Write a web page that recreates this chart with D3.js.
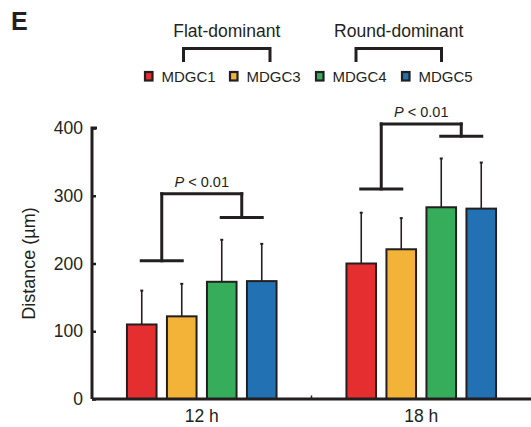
<!DOCTYPE html>
<html>
<head>
<meta charset="utf-8">
<script src="https://cdn.jsdelivr.net/npm/d3@7"></script>
<style>
    body { margin: 0; background: #fff; }
    text { font-family: "Liberation Sans", Arial, Helvetica, sans-serif; fill: #231f20; }
</style>
</head>
<body>
<div id="graphContainer"></div>
<script>
//chart data
var timepoints = ["12 h", "18 h"],
    series = ["MDGC1", "MDGC3", "MDGC4", "MDGC5"],
    colors = ["#e52e2f", "#f3b338", "#36ad5b", "#2272b3"],
    means = [[110, 122, 173, 174], [200, 221, 283, 281]],
    errTops = [[160, 170, 235, 229], [275, 267, 355, 349]],
    yTicks = [0, 100, 200, 300, 400];

//significance brackets per timepoint: left arm, top, right arm
var sigLow = [204, 310],
    sigTop = [303, 406],
    sigHigh = [268, 388],
    sigText = "< 0.01";

//legend grouping
var groupNames = ["Flat-dominant", "Round-dominant"];

var width = 531,
    height = 427,
    margin = {top: 128, left: 92, bottom: 28, right: 0},
    ink = "#231f20";

var svg = d3.select("#graphContainer").append("svg")
    .attr("width", width)
    .attr("height", height);

var x = d3.scaleBand().domain(timepoints).range([margin.left, width - margin.right]),
    inner = d3.scaleBand().domain(series).range([-80, 80]).paddingInner(0.21).paddingOuter(0.105),
    y = d3.scaleLinear().domain([0, 400]).range([height - margin.bottom, margin.top]);

//panel letter
svg.append("text")
    .attr("x", 11)
    .attr("y", 30)
    .style("font-size", "25px")
    .style("font-weight", "bold")
    .text("E");

//bars
var groups = svg.append("g").selectAll("g")
    .data(timepoints)
    .enter().append("g")
    .attr("transform", function (d) {
        return "translate(" + (x(d) + x.bandwidth() / 2) + ",0)";
    });

groups.each(function (t, i) {
    var g = d3.select(this);
    var rows = series.map(function (s, j) {
        return {s: s, mean: means[i][j], top: errTops[i][j], color: colors[j]};
    });

    //error bars first so the bar covers the lower half
    g.selectAll(".err").data(rows).enter().append("line")
        .attr("class", "err")
        .attr("x1", function (d) { return inner(d.s) + inner.bandwidth() / 2; })
        .attr("x2", function (d) { return inner(d.s) + inner.bandwidth() / 2; })
        .attr("y1", function (d) { return y(d.mean); })
        .attr("y2", function (d) { return y(d.top); })
        .attr("stroke", ink)
        .attr("stroke-width", 1.6);

    g.selectAll(".cap").data(rows).enter().append("line")
        .attr("class", "cap")
        .attr("x1", function (d) { return inner(d.s) + inner.bandwidth() / 2 - 1.5; })
        .attr("x2", function (d) { return inner(d.s) + inner.bandwidth() / 2 + 1.5; })
        .attr("y1", function (d) { return y(d.top); })
        .attr("y2", function (d) { return y(d.top); })
        .attr("stroke", ink)
        .attr("stroke-width", 2);

    g.selectAll(".bar").data(rows).enter().append("rect")
        .attr("class", "bar")
        .attr("x", function (d) { return inner(d.s) + 1; })
        .attr("width", inner.bandwidth() - 2)
        .attr("y", function (d) { return y(d.mean); })
        .attr("height", function (d) { return y(0) - y(d.mean); })
        .attr("fill", function (d) { return d.color; })
        .attr("stroke", ink)
        .attr("stroke-width", 2);

    //significance bracket
    var cL = (inner(series[0]) + inner(series[1]) + inner.bandwidth()) / 2,
        cR = (inner(series[2]) + inner(series[3]) + inner.bandwidth()) / 2,
        armL = (inner(series[1]) - inner(series[0])) / 2 + 0.5,
        armR = (inner(series[3]) - inner(series[2])) / 2 + 0.5;

    var lines = [
        [cL - armL, sigLow[i], cL + armL, sigLow[i]],
        [cL, sigLow[i], cL, sigTop[i]],
        [cL, sigTop[i], cR, sigTop[i]],
        [cR, sigTop[i], cR, sigHigh[i]],
        [cR - armR, sigHigh[i], cR + armR, sigHigh[i]]
    ];
    g.selectAll(".sig").data(lines).enter().append("line")
        .attr("class", "sig")
        .attr("x1", function (d) { return d[0]; })
        .attr("y1", function (d) { return y(d[1]); })
        .attr("x2", function (d) { return d[2]; })
        .attr("y2", function (d) { return y(d[3]); })
        .attr("stroke", ink)
        .attr("stroke-width", 3)
        .attr("stroke-linecap", "square");

    var label = g.append("text")
        .attr("x", (cL + cR) / 2)
        .attr("y", y(sigTop[i]) - 7)
        .attr("text-anchor", "middle")
        .style("font-size", "14.5px");
    label.append("tspan").style("font-style", "italic").text("P");
    label.append("tspan").text(" " + sigText);
});

//y axis, ticks point inward
var yAxis = svg.append("g")
    .attr("transform", "translate(" + margin.left + ",0)")
    .call(d3.axisLeft(y).tickValues(yTicks).tickSize(-4).tickPadding(9));
yAxis.select(".domain")
    .attr("d", "M0," + y(0) + "V" + y(400) + "H5")
    .attr("stroke", ink)
    .attr("stroke-width", 3);
yAxis.selectAll(".tick line").attr("stroke", ink).attr("stroke-width", 2.5);
yAxis.selectAll(".tick text")
    .style("font-size", "17.5px")
    .style("font-family", "'Liberation Sans', Arial, sans-serif")
    .attr("fill", ink);

//x axis with only the group boundary tick
var xAxis = svg.append("g")
    .attr("transform", "translate(0," + y(0) + ")")
    .call(d3.axisBottom(x).tickSize(0).tickPadding(11));
xAxis.select(".domain")
    .attr("d", "M" + margin.left + ",0H" + width)
    .attr("stroke", ink)
    .attr("stroke-width", 3);
xAxis.selectAll(".tick text")
    .style("font-size", "17.5px")
    .style("font-family", "'Liberation Sans', Arial, sans-serif")
    .attr("fill", ink);
xAxis.append("line")
    .attr("x1", x(timepoints[1]))
    .attr("x2", x(timepoints[1]))
    .attr("y1", 0)
    .attr("y2", -3.5)
    .attr("stroke", ink)
    .attr("stroke-width", 1.5);

//y axis title
svg.append("text")
    .attr("transform", "translate(35," + y(200) + ") rotate(-90)")
    .attr("text-anchor", "middle")
    .style("font-size", "18px")
    .text("Distance (\u00b5m)");

//legend
var legendX = [144, 229, 315, 401];
var legend = svg.append("g").selectAll("g")
    .data(series)
    .enter().append("g")
    .attr("transform", function (d, i) {
        return "translate(" + legendX[i] + ",71)";
    });

legend.append("rect")
    .attr("x", 1)
    .attr("y", 1)
    .attr("width", 7.5)
    .attr("height", 8.5)
    .attr("fill", function (d, i) { return colors[i]; })
    .attr("stroke", ink)
    .attr("stroke-width", 2.2);

legend.append("text")
    .attr("x", 17.5)
    .attr("y", 10.6)
    .style("font-size", "15px")
    .text(function (d) { return d; });

//legend grouping brackets
var groupSpan = [[183.5, 270], [356, 441.5]];
var grp = svg.append("g").selectAll("g")
    .data(groupNames)
    .enter().append("g");

grp.append("path")
    .attr("d", function (d, i) {
        var s = groupSpan[i];
        return "M" + s[0] + ",62V48.5H" + s[1] + "V62";
    })
    .attr("fill", "none")
    .attr("stroke", ink)
    .attr("stroke-width", 3);

grp.append("text")
    .attr("x", function (d, i) { return (groupSpan[i][0] + groupSpan[i][1]) / 2; })
    .attr("y", 36.5)
    .attr("text-anchor", "middle")
    .style("font-size", "17.5px")
    .text(function (d) { return d; });
</script>
</body>
</html>
